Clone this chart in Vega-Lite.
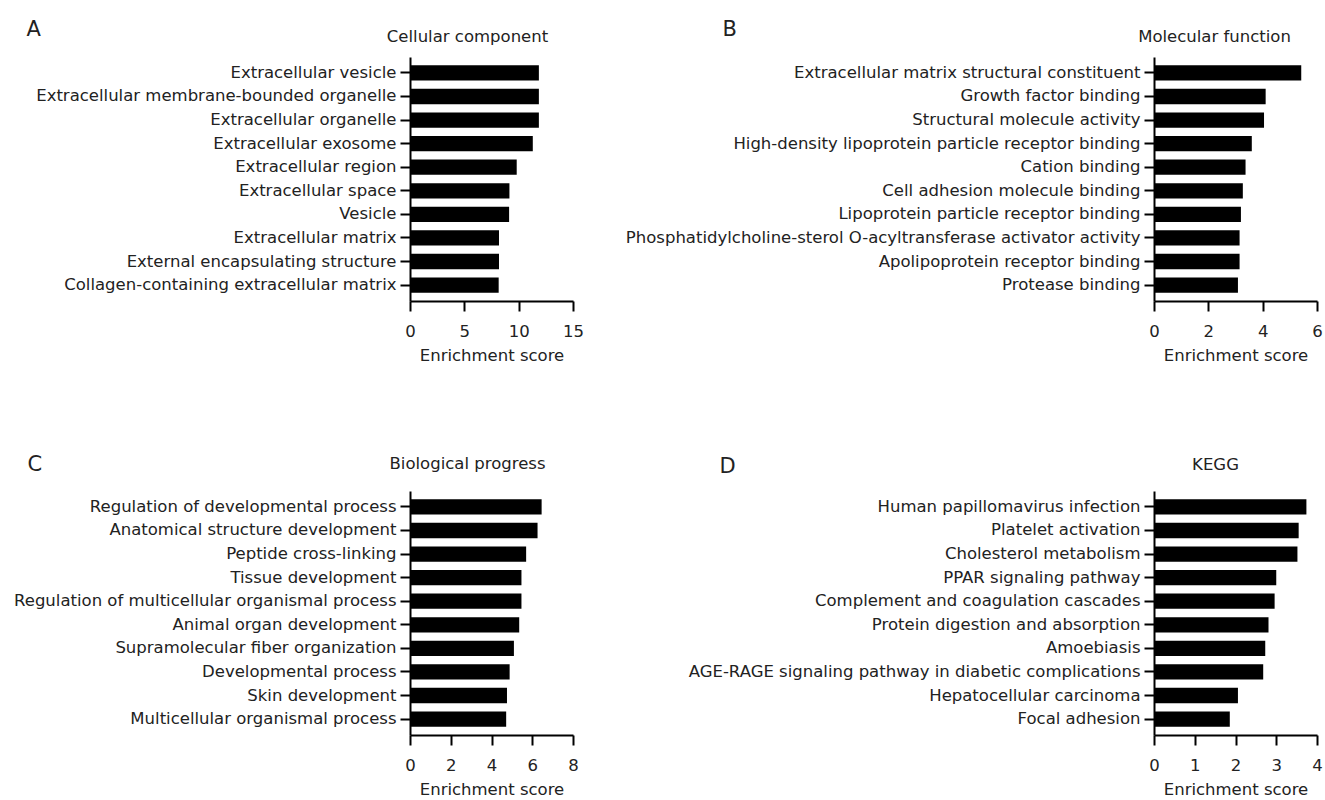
{
  "$schema": "https://vega.github.io/schema/vega-lite/v6.json",
  "background": "white",
  "padding": {"left": 13, "top": 18, "right": 5, "bottom": 5},
  "datasets": {
    "cc": [
      {"term": "Extracellular vesicle", "score": 11.86},
      {"term": "Extracellular membrane-bounded organelle", "score": 11.86},
      {"term": "Extracellular organelle", "score": 11.86},
      {"term": "Extracellular exosome", "score": 11.3},
      {"term": "Extracellular region", "score": 9.82},
      {"term": "Extracellular space", "score": 9.15},
      {"term": "Vesicle", "score": 9.12},
      {"term": "Extracellular matrix", "score": 8.19},
      {"term": "External encapsulating structure", "score": 8.19},
      {"term": "Collagen-containing extracellular matrix", "score": 8.16}
    ],
    "mf": [
      {"term": "Extracellular matrix structural constituent", "score": 5.42},
      {"term": "Growth factor binding", "score": 4.11},
      {"term": "Structural molecule activity", "score": 4.05},
      {"term": "High-density lipoprotein particle receptor binding", "score": 3.6},
      {"term": "Cation binding", "score": 3.37},
      {"term": "Cell adhesion molecule binding", "score": 3.27},
      {"term": "Lipoprotein particle receptor binding", "score": 3.2},
      {"term": "Phosphatidylcholine-sterol O-acyltransferase activator activity", "score": 3.15},
      {"term": "Apolipoprotein receptor binding", "score": 3.15},
      {"term": "Protease binding", "score": 3.09}
    ],
    "bp": [
      {"term": "Regulation of developmental process", "score": 6.46},
      {"term": "Anatomical structure development", "score": 6.26},
      {"term": "Peptide cross-linking", "score": 5.7},
      {"term": "Tissue development", "score": 5.47},
      {"term": "Regulation of multicellular organismal process", "score": 5.47},
      {"term": "Animal organ development", "score": 5.36},
      {"term": "Supramolecular fiber organization", "score": 5.1},
      {"term": "Developmental process", "score": 4.89},
      {"term": "Skin development", "score": 4.76},
      {"term": "Multicellular organismal process", "score": 4.72}
    ],
    "kegg": [
      {"term": "Human papillomavirus infection", "score": 3.74},
      {"term": "Platelet activation", "score": 3.55},
      {"term": "Cholesterol metabolism", "score": 3.52},
      {"term": "PPAR signaling pathway", "score": 3.0},
      {"term": "Complement and coagulation cascades", "score": 2.96},
      {"term": "Protein digestion and absorption", "score": 2.81},
      {"term": "Amoebiasis", "score": 2.73},
      {"term": "AGE-RAGE signaling pathway in diabetic complications", "score": 2.68},
      {"term": "Hepatocellular carcinoma", "score": 2.06},
      {"term": "Focal adhesion", "score": 1.86}
    ]
  },
  "columns": 2,
  "spacing": {"row": 190, "column": 581},
  "bounds": "flush",
  "align": "all",
  "concat": [
    {
      "data": {"name": "cc"},
      "width": 163,
      "height": 244,
      "resolve": {"axis": {"x": "independent"}},
      "layer": [
        {
          "mark": {"type": "bar", "color": "#000000"},
          "encoding": {
            "y": {"field": "term", "type": "nominal", "sort": null,
                  "scale": {"paddingInner": 0.35, "paddingOuter": 0.35},
                  "axis": {"title": "A", "titleX": -384, "titleY": -22}},
            "x": {"field": "score", "type": "quantitative",
                  "scale": {"domain": [0, 15], "nice": false},
                  "axis": {"values": [0, 5, 10, 15], "title": "Enrichment score"}}
          }
        },
        {
          "mark": {"type": "rule", "opacity": 0},
          "encoding": {
            "x": {"field": "score", "type": "quantitative",
                  "axis": {"orient": "top", "title": "Cellular component", "labels": false, "ticks": false, "domain": false,
                           "titleX": 57, "titleY": -16, "titleAlign": "center", "titleBaseline": "alphabetic"}}
          }
        }
      ]
    },
    {
      "data": {"name": "mf"},
      "width": 163,
      "height": 244,
      "resolve": {"axis": {"x": "independent"}},
      "layer": [
        {
          "mark": {"type": "bar", "color": "#000000"},
          "encoding": {
            "y": {"field": "term", "type": "nominal", "sort": null,
                  "scale": {"paddingInner": 0.35, "paddingOuter": 0.35},
                  "axis": {"title": "B", "titleX": -432, "titleY": -22}},
            "x": {"field": "score", "type": "quantitative",
                  "scale": {"domain": [0, 6], "nice": false},
                  "axis": {"values": [0, 2, 4, 6], "title": "Enrichment score"}}
          }
        },
        {
          "mark": {"type": "rule", "opacity": 0},
          "encoding": {
            "x": {"field": "score", "type": "quantitative",
                  "axis": {"orient": "top", "title": "Molecular function", "labels": false, "ticks": false, "domain": false,
                           "titleX": 60, "titleY": -16, "titleAlign": "center", "titleBaseline": "alphabetic"}}
          }
        }
      ]
    },
    {
      "data": {"name": "bp"},
      "width": 163,
      "height": 244,
      "resolve": {"axis": {"x": "independent"}},
      "layer": [
        {
          "mark": {"type": "bar", "color": "#000000"},
          "encoding": {
            "y": {"field": "term", "type": "nominal", "sort": null,
                  "scale": {"paddingInner": 0.35, "paddingOuter": 0.35},
                  "axis": {"title": "C", "titleX": -383, "titleY": -21}},
            "x": {"field": "score", "type": "quantitative",
                  "scale": {"domain": [0, 8], "nice": false},
                  "axis": {"values": [0, 2, 4, 6, 8], "title": "Enrichment score"}}
          }
        },
        {
          "mark": {"type": "rule", "opacity": 0},
          "encoding": {
            "x": {"field": "score", "type": "quantitative",
                  "axis": {"orient": "top", "title": "Biological progress", "labels": false, "ticks": false, "domain": false,
                           "titleX": 57, "titleY": -23, "titleAlign": "center", "titleBaseline": "alphabetic"}}
          }
        }
      ]
    },
    {
      "data": {"name": "kegg"},
      "width": 163,
      "height": 244,
      "resolve": {"axis": {"x": "independent"}},
      "layer": [
        {
          "mark": {"type": "bar", "color": "#000000"},
          "encoding": {
            "y": {"field": "term", "type": "nominal", "sort": null,
                  "scale": {"paddingInner": 0.35, "paddingOuter": 0.35},
                  "axis": {"title": "D", "titleX": -435, "titleY": -19}},
            "x": {"field": "score", "type": "quantitative",
                  "scale": {"domain": [0, 4], "nice": false},
                  "axis": {"values": [0, 1, 2, 3, 4], "title": "Enrichment score"}}
          }
        },
        {
          "mark": {"type": "rule", "opacity": 0},
          "encoding": {
            "x": {"field": "score", "type": "quantitative",
                  "axis": {"orient": "top", "title": "KEGG", "labels": false, "ticks": false, "domain": false,
                           "titleX": 61, "titleY": -22, "titleAlign": "center", "titleBaseline": "alphabetic"}}
          }
        }
      ]
    }
  ],
  "config": {
    "font": "DejaVu Sans",
    "view": {"stroke": null},
    "axis": {
      "grid": false,
      "domainColor": "#000000",
      "domainWidth": 2,
      "tickColor": "#000000",
      "tickWidth": 2,
      "tickSize": 10,
      "labelFont": "DejaVu Sans",
      "labelFontSize": 16.5,
      "labelColor": "#222222",
      "labelLimit": 0,
      "labelOverlap": false,
      "titleFont": "DejaVu Sans",
      "titleColor": "#222222"
    },
    "axisX": {
      "labelPadding": 12,
      "labelFlush": false,
      "labelAngle": 0,
      "titleFontSize": 16.5,
      "titleFontWeight": "normal",
      "titlePadding": 8
    },
    "axisY": {
      "labelPadding": 4,
      "titleAngle": 0,
      "titleAlign": "left",
      "titleBaseline": "alphabetic",
      "titleFontSize": 21,
      "titleFontWeight": "normal"
    }
  }
}
